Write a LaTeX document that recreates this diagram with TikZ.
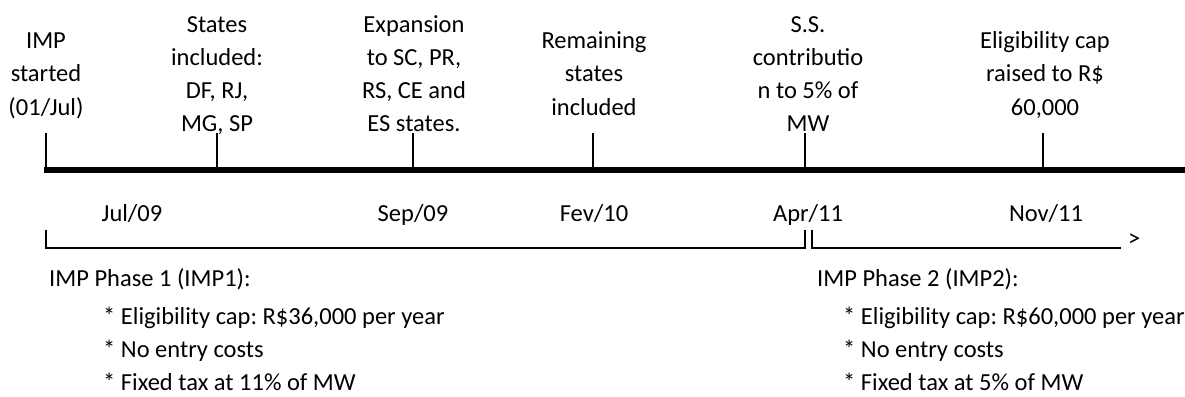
\documentclass[tikz,border=0pt]{standalone}
\usepackage{fontspec}
\setmainfont{Carlito}
\frenchspacing
\begin{document}
\begin{tikzpicture}[x=1pt,y=-1pt,
  lbl/.style={font=\fontsize{24.5}{33.3}\selectfont, align=center, inner sep=0pt, anchor=center},
  datelbl/.style={font=\fontsize{24.5}{33.3}\selectfont, inner sep=0pt, anchor=base},
  txt/.style={font=\fontsize{24.5}{33.3}\selectfont, inner sep=0pt, anchor=base west},
  tickline/.style={line width=1.7pt},
  axisline/.style={line width=6pt},
  phaseline/.style={line width=1.6pt}]
\useasboundingbox (0,0) rectangle (1185,396);

% event labels
\node[lbl] (e1) at (46,75.3) {\strut IMP\\started\\(01/Jul)\strut};
\node[lbl] (e2) at (217,75.3) {\strut States\\included:\\DF, RJ,\\MG, SP\strut};
\node[lbl] (e3) at (414,75.3) {\strut Expansion\\to SC, PR,\\RS, CE and\\ES states.\strut};
\node[lbl] (e4) at (594,75.3) {\strut Remaining\\states\\included\strut};
\node[lbl] (e5) at (808,75.3) {\strut S.S.\\contributio\\n to 5\% of\\MW\strut};
\node[lbl] (e6) at (1045,75.3) {\strut Eligibility cap\\raised to R\$\\60,000\strut};

% axis
\coordinate (a0) at (44,170);
\coordinate (a1) at (1185,170);
\draw[axisline] (a0) -- (a1);

% ticks
\foreach \i/\x in {1/46,2/217,3/413,4/593,5/805,6/1043}{
  \coordinate (k\i) at (\x,133);
  \coordinate (t\i) at (\x,170);
  \draw[tickline] (k\i) -- (t\i);
}

% dates
\node[datelbl] (d1) at (132,221) {Jul/09};
\node[datelbl] (d2) at (413,221) {Sep/09};
\node[datelbl] (d3) at (594,221) {Fev/10};
\node[datelbl] (d4) at (808,221) {Apr/11};
\node[datelbl] (d5) at (1046,221) {Nov/11};

% phase brackets
\coordinate (p1s) at (46,230);
\coordinate (p1b) at (46,248);
\coordinate (p1e) at (805,248);
\coordinate (p1t) at (805,230);
\coordinate (p2t) at (812,230);
\coordinate (p2b) at (812,248);
\coordinate (p2e) at (1121,248);
\draw[phaseline] (p1s) -- (p1b) -- (p1e) -- (p1t);
\draw[phaseline] (p2t) -- (p2b) -- (p2e);
\node[txt] (arr) at (1128,246) {>};

% phase 1
\node[txt] (h1) at (49,286) {IMP Phase 1 (IMP1):};
\node[txt] (b11) at (103,324) {* Eligibility cap: R\$36,000 per year};
\node[txt] (b12) at (103,357) {* No entry costs};
\node[txt] (b13) at (103,390) {* Fixed tax at 11\% of MW};

% phase 2
\node[txt] (h2) at (817,286) {IMP Phase 2 (IMP2):};
\node[txt] (b21) at (843,324) {* Eligibility cap: R\$60,000 per year};
\node[txt] (b22) at (843,357) {* No entry costs};
\node[txt] (b23) at (843,390) {* Fixed tax at 5\% of MW};
\end{tikzpicture}
\end{document}
